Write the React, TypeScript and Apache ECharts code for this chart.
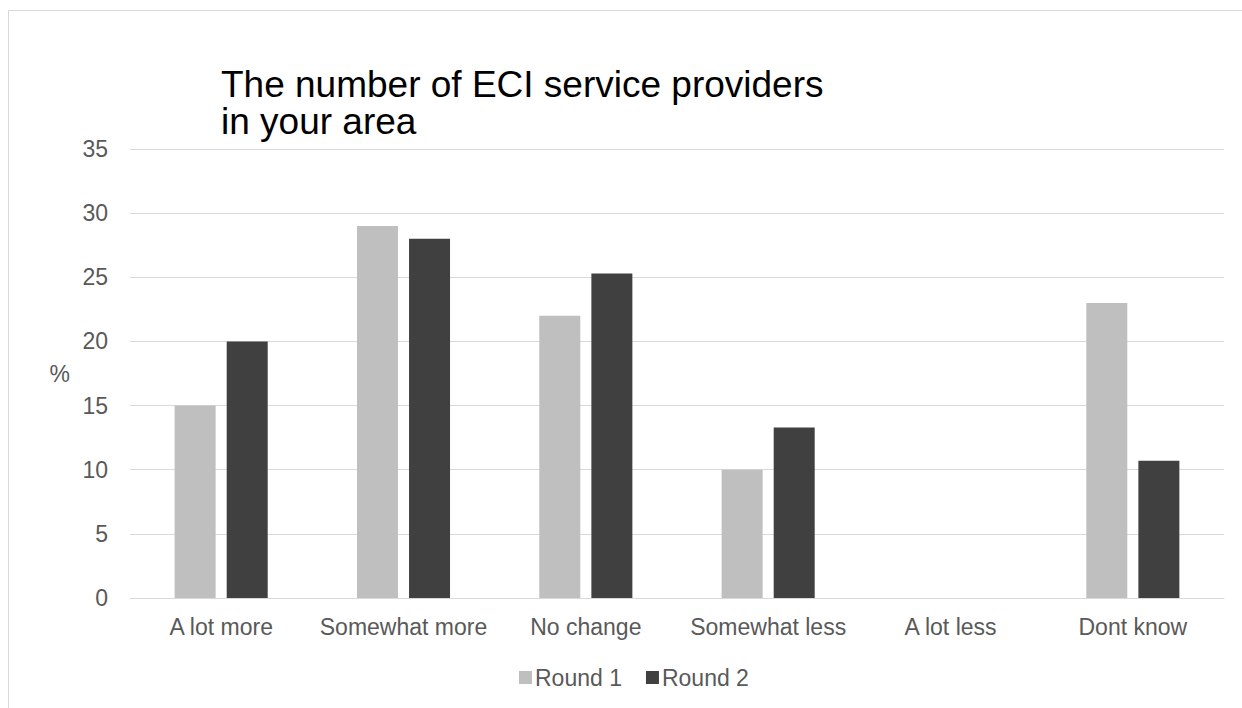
import React, { useEffect, useRef } from "react";
import * as echarts from "echarts";

const categories = ["A lot more", "Somewhat more", "No change", "Somewhat less", "A lot less", "Dont know"];
const round1 = [15, 29, 22, 10, 0, 23];
const round2 = [20, 28, 25.3, 13.3, 0, 10.7];
const seriesNames = ["Round 1", "Round 2"];
const titleLines = ["The number of ECI service providers", "in your area"];

const FONT = "'Liberation Sans', Arial, sans-serif";

export default function App() {
  const ref = useRef<HTMLDivElement>(null);
  useEffect(() => {
    document.body.style.margin = "0";
    const chart = echarts.init(ref.current!, null, { renderer: "svg" });
    chart.setOption({
      animation: false,
      backgroundColor: "#ffffff",
      textStyle: { fontFamily: FONT },
      title: {
        text: titleLines.join("\n"),
        left: 221,
        top: 66,
        padding: 0,
        textStyle: { fontSize: 37, fontWeight: "normal", color: "#000000", lineHeight: 37, fontFamily: FONT },
      },
      graphic: [
        {
          type: "rect",
          shape: { x: 8.5, y: 10.5, width: 1300, height: 800 },
          style: { fill: "none", stroke: "#d9d9d9", lineWidth: 1 },
          silent: true,
          z: -1,
        },
      ],
      legend: {
        left: 514,
        top: 661,
        itemWidth: 13,
        itemHeight: 13,
        itemGap: 24,
        icon: "rect",
        textStyle: { fontSize: 23, color: "#595959", fontFamily: FONT, padding: [0, 0, 0, -2] },
        data: seriesNames,
      },
      grid: { left: 130, right: 18, top: 149, bottom: 110, containLabel: false },
      xAxis: {
        type: "category",
        data: categories,
        axisLine: { show: true, lineStyle: { color: "#d9d9d9", width: 1 } },
        axisTick: { show: false },
        axisLabel: { fontSize: 23, color: "#595959", margin: 17, fontFamily: FONT, interval: 0 },
      },
      yAxis: {
        type: "value",
        min: 0,
        max: 35,
        interval: 5,
        name: "%",
        nameLocation: "middle",
        nameRotate: 0,
        nameGap: 60,
        nameTextStyle: { fontSize: 23, color: "#595959", fontFamily: FONT },
        axisLine: { show: false },
        axisTick: { show: false },
        axisLabel: { fontSize: 23, color: "#595959", margin: 22, fontFamily: FONT },
        splitLine: { lineStyle: { color: "#d9d9d9", width: 1 } },
      },
      series: [
        {
          name: seriesNames[0],
          type: "bar",
          data: round1,
          barWidth: 41,
          barGap: "27%",
          itemStyle: { color: "#bfbfbf" },
        },
        {
          name: seriesNames[1],
          type: "bar",
          data: round2,
          barWidth: 41,
          barGap: "27%",
          itemStyle: { color: "#404040" },
        },
      ],
    });
    return () => chart.dispose();
  }, []);
  return <div ref={ref} style={{ width: 1242, height: 708 }} />;
}
